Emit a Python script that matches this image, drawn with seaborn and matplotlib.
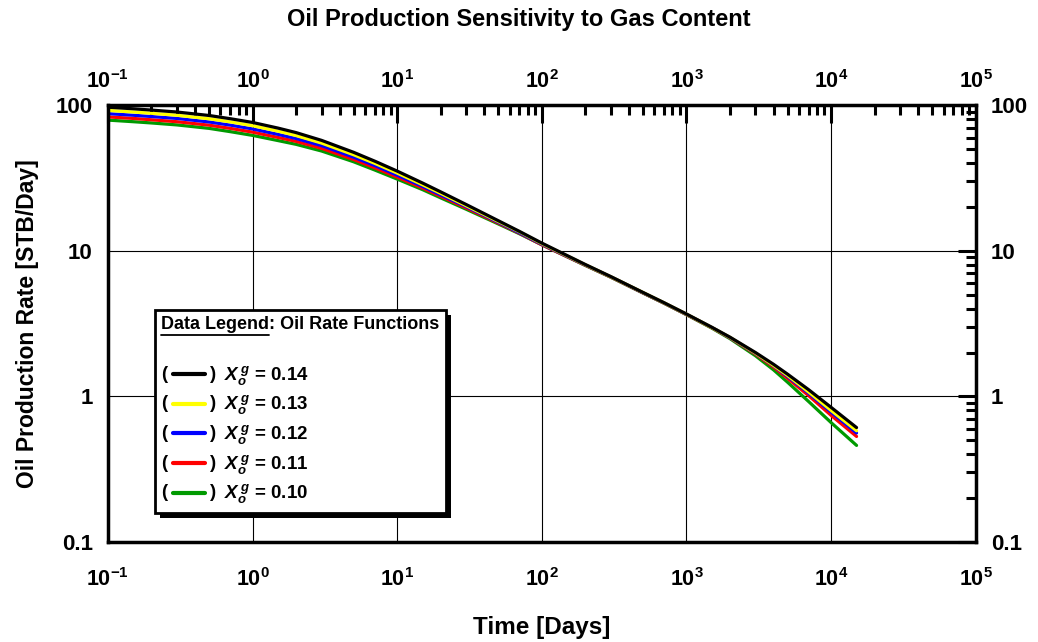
import numpy as np
import pandas as pd
import matplotlib
matplotlib.use("Agg")
import matplotlib.pyplot as plt
import seaborn as sns
from matplotlib.lines import Line2D
from matplotlib.text import Text
from matplotlib.patches import Rectangle
from matplotlib.legend_handler import HandlerLine2D
from matplotlib.ticker import FixedLocator, LogLocator, FuncFormatter, NullFormatter
from matplotlib.transforms import ScaledTranslation

# ---------------- data ----------------
time_days = [0.1, 0.15, 0.2, 0.3, 0.5, 0.7, 1, 1.5, 2, 3, 5, 7, 10, 15, 20, 30,
             50, 70, 100, 200, 300, 500, 700, 1000, 1500, 2000, 3000, 4000,
             5000, 7000, 10000, 15000]
rate_014 = [97.0, 94.6, 92.7, 89.9, 85.1, 80.9, 76.2, 69.7, 64.9, 57.4, 47.5, 41.3,
            35.3, 29.2, 25.4, 20.8, 16.1, 13.6, 11.3, 8.05, 6.65, 5.18, 4.40, 3.68,
            2.98, 2.55, 2.00, 1.66, 1.42, 1.11, 0.84, 0.61]
rate_013 = [92.2, 89.9, 88.1, 85.4, 80.8, 76.9, 72.4, 66.4, 61.9, 55.0, 45.7, 39.9,
            34.2, 28.4, 24.8, 20.4, 15.9, 13.5, 11.2, 8.02, 6.63, 5.17, 4.39, 3.67,
            2.97, 2.54, 1.98, 1.63, 1.39, 1.07, 0.80, 0.58]
rate_012 = [87.6, 85.4, 83.7, 81.2, 76.8, 73.1, 68.8, 63.1, 59.1, 52.8, 44.0, 38.5,
            33.1, 27.7, 24.2, 20.1, 15.7, 13.3, 11.1, 7.99, 6.62, 5.15, 4.38, 3.66,
            2.97, 2.53, 1.97, 1.62, 1.37, 1.05, 0.78, 0.56]
rate_011 = [83.2, 81.2, 79.5, 77.1, 73.0, 69.4, 65.4, 60.1, 56.5, 50.6, 42.4, 37.2,
            32.1, 27.0, 23.7, 19.7, 15.5, 13.2, 11.0, 7.96, 6.60, 5.14, 4.37, 3.65,
            2.96, 2.52, 1.95, 1.59, 1.33, 1.01, 0.74, 0.53]
rate_010 = [79.1, 77.1, 75.6, 73.3, 69.4, 65.9, 62.1, 57.2, 53.9, 48.5, 40.9, 35.9,
            31.1, 26.3, 23.1, 19.3, 15.3, 13.1, 11.0, 7.93, 6.58, 5.13, 4.36, 3.64,
            2.94, 2.49, 1.90, 1.52, 1.25, 0.92, 0.66, 0.46]
gas_contents = ["0.14", "0.13", "0.12", "0.11", "0.10"]
series_rates = [rate_014, rate_013, rate_012, rate_011, rate_010]
colors = ["#000000", "#ffff00", "#0000ff", "#ff0000", "#009a00"]
x_decades = [0.1, 1, 10, 100, 1000, 10000, 100000]
y_ticks = [0.1, 1, 10, 100]
y_tick_labels = ["0.1", "1", "10", "100"]

rows = []
for g, rates in zip(gas_contents, series_rates):
    for t, r in zip(time_days, rates):
        rows.append({"Time": t, "Rate": r, "Gas": g})
df = pd.DataFrame(rows)

# ---------------- style ----------------
sns.set_style("white")
plt.rcParams["font.family"] = ["Liberation Sans", "DejaVu Sans"]
plt.rcParams["font.weight"] = "bold"
plt.rcParams["text.color"] = "black"
plt.rcParams["axes.labelcolor"] = "black"
plt.rcParams["xtick.color"] = "black"
plt.rcParams["ytick.color"] = "black"
plt.rcParams["mathtext.fontset"] = "custom"
plt.rcParams["mathtext.rm"] = "Liberation Sans:bold"
plt.rcParams["mathtext.bf"] = "Liberation Sans:bold"
plt.rcParams["mathtext.it"] = "Liberation Sans:bold:italic"

fig = plt.figure(figsize=(10.38, 6.42), dpi=100)
ax = fig.add_axes([0.104, 0.156, 0.836, 0.680])

# draw black last so it sits on top
sns.lineplot(data=df, x="Time", y="Rate", hue="Gas",
             hue_order=gas_contents[::-1], palette=colors[::-1],
             linewidth=2.3, ax=ax, legend=False, estimator=None, sort=True)

ax.set_xscale("log")
ax.set_yscale("log")
ax.set_xlim(1e-1, 1e5)
ax.set_ylim(0.1, 100)

ax.xaxis.set_major_locator(FixedLocator(x_decades))
ax.xaxis.set_minor_locator(LogLocator(base=10, subs=np.arange(2, 10), numticks=20))
ax.xaxis.set_major_formatter(FuncFormatter(lambda v, p: r"$\mathbf{10^{%d}}$" % int(round(np.log10(v)))))
ax.xaxis.set_minor_formatter(NullFormatter())
ax.yaxis.set_major_locator(FixedLocator(y_ticks))
ax.set_yticklabels(y_tick_labels)
ax.yaxis.set_minor_locator(LogLocator(base=10, subs=np.arange(2, 10), numticks=20))
ax.yaxis.set_minor_formatter(NullFormatter())

ax.tick_params(which="both", direction="in", top=True, right=True,
               labeltop=True, labelright=True, color="black", width=2.2,
               labelcolor="black")
ax.tick_params(which="major", length=13)
ax.tick_params(which="minor", length=7)
ax.tick_params(axis="x", which="major", labelsize=15.5, pad=9)
ax.tick_params(axis="y", which="major", labelsize=16, pad=11)
for lab in ax.get_xticklabels() + ax.get_yticklabels():
    lab.set_fontweight("bold")

ax.grid(True, which="major", color="black", linewidth=0.8)
ax.grid(False, which="minor")
for s in ax.spines.values():
    s.set_linewidth(2.5)
    s.set_color("black")

# push only the bottom x tick labels a little further down
off = ScaledTranslation(0, -10 / 72, fig.dpi_scale_trans)
for tick in ax.xaxis.get_major_ticks():
    tick.label1.set_transform(tick.label1.get_transform() + off)

ax.set_xlabel("Time [Days]", fontsize=17.5, fontweight="bold", labelpad=18,
              color="black")
ax.set_ylabel("Oil Production Rate [STB/Day]", fontsize=16.5, fontweight="bold",
              labelpad=12, color="black")
fig.suptitle("Oil Production Sensitivity to Gas Content", fontsize=17,
             fontweight="bold", y=0.988, color="black")

# ---------------- legend ----------------
class ParenHandler(HandlerLine2D):
    def create_artists(self, legend, orig_handle, xdescent, ydescent,
                       width, height, fontsize, trans):
        yc = height / 2.0 - ydescent
        x0 = -xdescent
        line = Line2D([x0 + 0.22 * width, x0 + 0.80 * width], [yc, yc],
                      color=orig_handle.get_color(), linewidth=3.0,
                      transform=trans)
        lp = Text(x0, yc, "(", fontsize=fontsize, fontweight="bold",
                  va="center", ha="left", transform=trans)
        rp = Text(x0 + width, yc, ")", fontsize=fontsize, fontweight="bold",
                  va="center", ha="right", transform=trans)
        return [line, lp, rp]

handles = [Line2D([], [], color=c) for c in colors]
labels = [r"$X_o^{\,g}$ = " + g for g in gas_contents]
title_size = 13
leg = ax.legend(handles, labels, handler_map={Line2D: ParenHandler()},
                title="Data Legend: Oil Rate Functions\n", loc="lower left",
                bbox_to_anchor=(0.054, 0.066), borderaxespad=0, fontsize=13.5,
                title_fontproperties={"weight": "bold", "size": title_size},
                alignment="left", frameon=True, fancybox=False,
                edgecolor="black", framealpha=1, shadow=False,
                handlelength=2.9, handletextpad=0.45, labelspacing=0.35,
                borderpad=0.35)
leg.get_frame().set_linewidth(2)
leg.get_title().set_linespacing(1.6)
leg.set_zorder(10)

fig.canvas.draw()
renderer = fig.canvas.get_renderer()

# solid drop shadow behind the legend box
lbb = leg.get_window_extent(renderer)
inv_ax = ax.transAxes.inverted()
(ax0, ay0), (ax1, ay1) = inv_ax.transform([(lbb.x0 + 5, lbb.y0 - 5),
                                           (lbb.x1 + 5, lbb.y1 - 5)])
ax.add_patch(Rectangle((ax0, ay0), ax1 - ax0, ay1 - ay0, transform=ax.transAxes,
                       facecolor="black", edgecolor="none", zorder=9,
                       clip_on=False))

# underline "Data Legend"
title = leg.get_title()
bb = title.get_window_extent(renderer)
tmp = fig.text(0, 0, "Data Legend", fontsize=title_size, fontweight="bold")
w = tmp.get_window_extent(renderer).width
tmp.remove()
line_h = title_size / 72 * fig.dpi
yline = bb.y1 - line_h * 1.02
inv = fig.transFigure.inverted()
(fx0, fy), (fx1, _) = inv.transform([(bb.x0, yline), (bb.x0 + w, yline)])
fig.add_artist(Line2D([fx0, fx1], [fy, fy], color="black", linewidth=1.3,
                      transform=fig.transFigure, zorder=20))

fig.savefig("out.png", dpi=100)
